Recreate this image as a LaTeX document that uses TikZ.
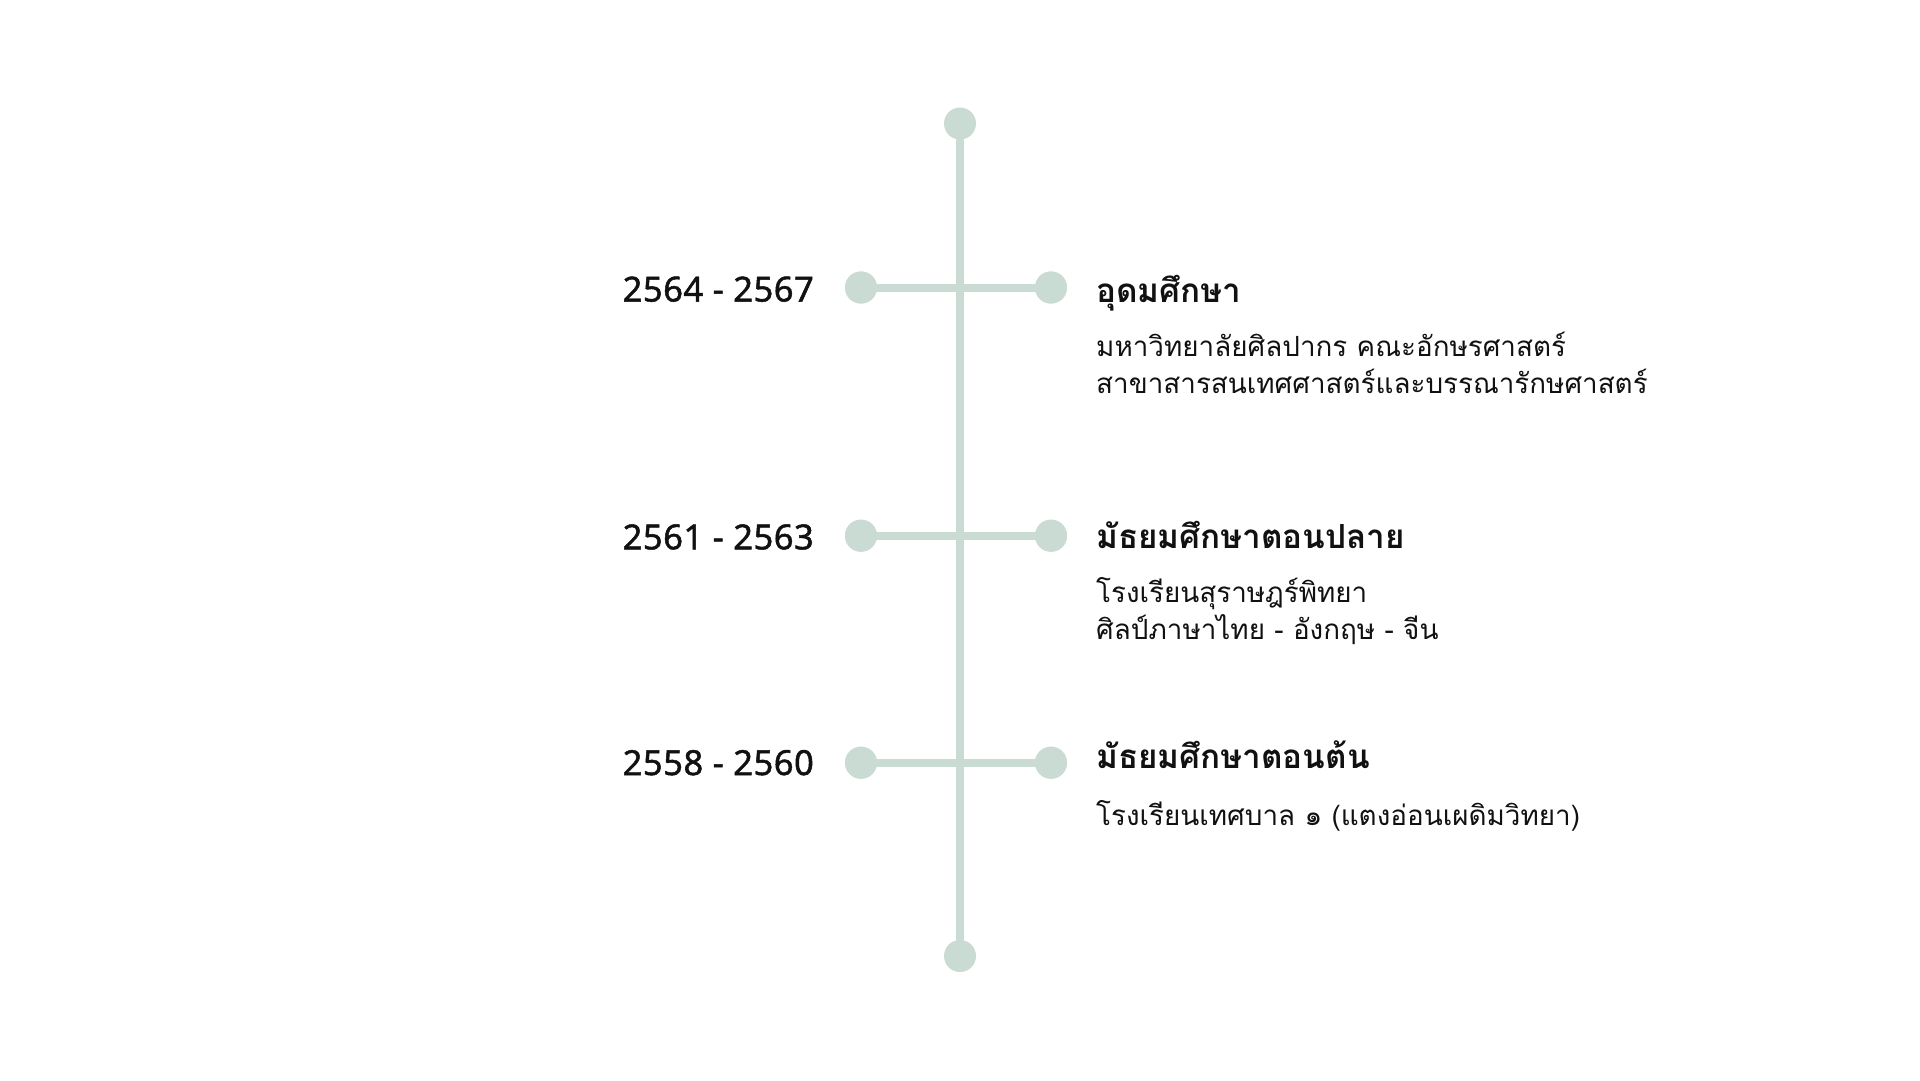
\documentclass[tikz,border=0pt]{standalone}
\usepackage{fontspec}
\newfontfamily\thaifont[Script=Thai]{Loma}
\newfontfamily\yearfont[FakeBold=1.4,LetterSpace=1.5]{Noto Sans}
\definecolor{sage}{HTML}{C9DBD2}
\definecolor{ink}{HTML}{111111}
\tikzset{
  dot/.style={circle, fill=sage, minimum size=32pt, inner sep=0pt},
  spine/.style={draw=sage, line width=7.5pt},
  branch/.style={draw=sage, line width=8pt},
  yearlbl/.style={anchor=base east, inner sep=0pt, text=ink, font=\yearfont\fontsize{34.5}{40}\selectfont},
  headlbl/.style={anchor=base west, inner sep=0pt, text=ink, font=\thaifont\bfseries\fontsize{33.2}{38}\selectfont},
  bodylbl/.style={anchor=base west, inner sep=0pt, text=ink, font=\thaifont\fontsize{27.8}{32}\selectfont}
}
\begin{document}
\begin{tikzpicture}[x=1pt,y=-1pt]
\path[use as bounding box, fill=white] (0,0) rectangle (1920,1080);
% spine
\node[dot] (top) at (960,123.5) {};
\node[dot] (bot) at (960,956) {};
\path[spine] (top.center) -- (bot.center);
% rows
\node[dot] (l1) at (861,287.5) {};
\node[dot] (r1) at (1051,287.5) {};
\node[dot] (l2) at (861,535.7) {};
\node[dot] (r2) at (1051,535.7) {};
\node[dot] (l3) at (861,762.7) {};
\node[dot] (r3) at (1051,762.7) {};
\path[branch] (l1.center) -- (r1.center);
\path[branch] (l2.center) -- (r2.center);
\path[branch] (l3.center) -- (r3.center);
\node[dot] at (861,287.5) {};
\node[dot] at (1051,287.5) {};
\node[dot] at (861,535.7) {};
\node[dot] at (1051,535.7) {};
\node[dot] at (861,762.7) {};
\node[dot] at (1051,762.7) {};
% years
\node[yearlbl] (y1) at (814,301.5) {2564 - 2567};
\node[yearlbl] (y2) at (814,549.3) {2561 - 2563};
\node[yearlbl] (y3) at (814,775) {2558 - 2560};
% headings
\node[headlbl] (h1) at (1096,302) {อุดมศึกษา};
\node[headlbl] (h2) at (1096,548) {มัธยมศึกษาตอนปลาย};
\node[headlbl] (h3) at (1096,768) {มัธยมศึกษาตอนต้น};
% bodies
\node[bodylbl] (b1a) at (1096,356) {มหาวิทยาลัยศิลปากร คณะอักษรศาสตร์};
\node[bodylbl] (b1b) at (1096,393.5) {สาขาสารสนเทศศาสตร์และบรรณารักษศาสตร์};
\node[bodylbl] (b2a) at (1096,602) {โรงเรียนสุราษฎร์พิทยา};
\node[bodylbl] (b2b) at (1096,639.5) {ศิลป์ภาษาไทย - อังกฤษ - จีน};
\node[bodylbl] (b3a) at (1096,825) {โรงเรียนเทศบาล ๑ (แตงอ่อนเผดิมวิทยา)};
\end{tikzpicture}
\end{document}
